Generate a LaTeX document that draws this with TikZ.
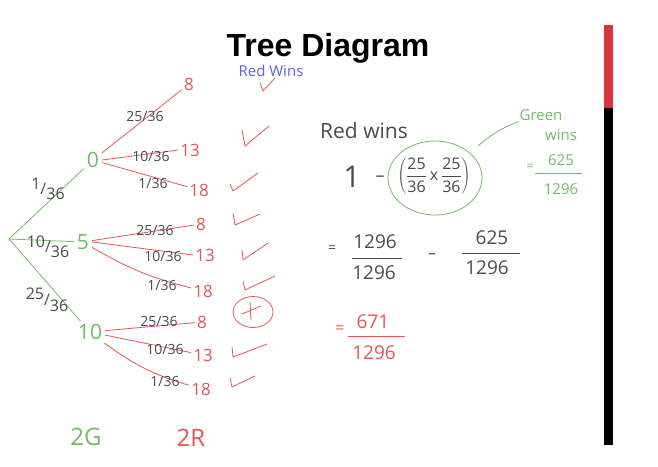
\documentclass[tikz,border=0pt]{standalone}
\usepackage{fontspec}
\setmainfont{Open Sans}
\newfontfamily\titlefont{Liberation Sans}
\definecolor{hgreen}{RGB}{112,188,98}
\definecolor{hred}{RGB}{230,85,85}
\definecolor{hblue}{RGB}{95,95,228}
\definecolor{hink}{RGB}{75,75,75}
\definecolor{barred}{RGB}{220,52,62}
\begin{document}
\begin{tikzpicture}[x=1pt,y=-1pt,
  lbl/.style={font=\fontsize{14}{16}\selectfont, text=hink, inner sep=0pt},
  rootlbl/.style={font=\fontsize{16}{18}\selectfont, text=hink, inner sep=0pt},
  gnum/.style={font=\fontsize{21}{23}\selectfont, text=hgreen, inner sep=3pt},
  rnum/.style={font=\fontsize{17}{19}\selectfont, text=hred, inner sep=2pt},
  ink/.style={text=hink, inner sep=1pt},
  gline/.style={draw=hgreen, line width=0.8pt},
  rline/.style={draw=hred, line width=0.8pt},
  chk/.style={draw=hred, line width=0.8pt, line join=round},
  bar/.style={line width=0.7pt}]
\useasboundingbox (0,0) rectangle (658,466);
% title
\node[font=\titlefont\bfseries\fontsize{32}{34}\selectfont, inner sep=0pt] (title) at (328,48) {Tree Diagram};
\node[font=\fontsize{15}{17}\selectfont, text=hblue, inner sep=0pt] (redwinsA) at (271,71) {Red Wins};
% right bar
\fill[barred] (604,25) rectangle (613,108);
\fill[black] (604,108) rectangle (613,445);
% tree
\coordinate (root) at (9,239);
\node[gnum] (g0) at (93,160) {0};
\node[gnum] (g5) at (83,242) {5};
\node[gnum] (g10) at (90,332) {10};
\draw[gline] (root) -- (g0);
\draw[gline] (root) -- (g5);
\draw[gline] (root) -- (g10);
\node[rootlbl] (l1) at (48,189) {\raisebox{5pt}{1}/\raisebox{-5pt}{36}};
\node[rootlbl] (l2) at (48,247) {\raisebox{5pt}{10}/\raisebox{-5pt}{36}};
\node[rootlbl] (l3) at (47,300) {\raisebox{6pt}{25}/\raisebox{-6pt}{36}};
% from 0
\node[rnum] (a8) at (189,84) {8};
\node[rnum] (a13) at (190,150) {13};
\node[rnum] (a18) at (199,190) {18};
\draw[rline] (g0) -- (a8);
\draw[rline] (g0.east) -- (a13.west);
\draw[rline] (g0) -- (a18);
\node[lbl] (la8) at (145,116) {25/36};
\node[lbl] (la13) at (151,156) {10/36};
\node[lbl] (la18) at (153,183) {1/36};
% from 5
\node[rnum] (b8) at (201,224) {8};
\node[rnum] (b13) at (205,255) {13};
\node[rnum] (b18) at (203,291) {18};
\draw[rline] (g5) -- (b8);
\draw[rline] (g5.east) -- (b13.west);
\draw[rline] (g5) to[bend right=8] (b18);
\node[lbl] (lb8) at (155,230) {25/36};
\node[lbl] (lb13) at (163,256) {10/36};
\node[lbl] (lb18) at (162,285) {1/36};
% from 10
\node[rnum] (c8) at (202,322) {8};
\node[rnum] (c13) at (203,355) {13};
\node[rnum] (c18) at (201,389) {18};
\draw[rline] (g10) -- (c8);
\draw[rline] (g10) -- (c13);
\draw[rline] (g10) to[bend right=10] (c18);
\node[lbl] (lc8) at (159,321) {25/36};
\node[lbl] (lc13) at (165,349) {10/36};
\node[lbl] (lc18) at (165,381) {1/36};
% checks
\draw[chk] (260,83) -- (263,91) -- (275,78);
\draw[chk] (242,130) -- (245,146) -- (269,126);
\draw[chk] (230,184) -- (233,191) -- (258,173);
\draw[chk] (233,213) -- (235,225) -- (260,214);
\draw[chk] (242,250) -- (243,260) -- (268,243);
\draw[chk] (243,281) -- (245,290) -- (275,276);
\draw[chk] (232,347) -- (233,357) -- (267,344);
\draw[chk] (230,378) -- (232,387) -- (255,376);
\draw[chk] (253,312) ellipse [x radius=20, y radius=15.5];
\draw[chk] (242,314) -- (261,306);
\draw[chk] (250,302) -- (251,320);
% bottom labels
\node[font=\fontsize{24}{26}\selectfont, text=hgreen, inner sep=0pt] (twoG) at (86,437) {2G};
\node[font=\fontsize{24}{26}\selectfont, text=hred, inner sep=0pt] (twoR) at (191,438) {2R};
% right side
\node[ink, font=\fontsize{21}{23}\selectfont] (redwins) at (364,131) {Red wins};
\node[ink, font=\fontsize{30}{32}\selectfont] (one) at (352,177) {1};
\node[ink, font=\fontsize{18}{20}\selectfont] (minus1) at (380,179) {–};
\node[ink, font=\fontsize{16}{18}\selectfont] (prod) at (434,176) {$\displaystyle\left(\frac{\mbox{25}}{\mbox{36}}\,\mbox{x}\,\frac{\mbox{25}}{\mbox{36}}\right)$};
\draw[gline] (435,178) ellipse [x radius=47, y radius=37];
\coordinate (ell) at (478,146);
\node[font=\fontsize{15}{17}\selectfont, text=hgreen, inner sep=1pt] (green) at (541,115) {Green};
\node[font=\fontsize{15}{17}\selectfont, text=hgreen, inner sep=1pt] (gwins) at (561,135) {wins};
\draw[gline] (ell) to[bend left=10] (green.south west);
\node[font=\fontsize{13}{15}\selectfont, text=hgreen, inner sep=0pt] (geq) at (530,167) {=};
\node[font=\fontsize{15}{17}\selectfont, text=hgreen, inner sep=0pt] (g625) at (561,160) {625};
\node[font=\fontsize{15}{17}\selectfont, text=hgreen, inner sep=0pt] (g1296) at (561,189) {1296};
\draw[gline] (535,173) -- (582,173);
% second line
\node[ink, font=\fontsize{14}{16}\selectfont] (eq2) at (332,249) {=};
\node[ink, font=\fontsize{19}{21}\selectfont] (n1296) at (375,242) {1296};
\node[ink, font=\fontsize{19}{21}\selectfont] (d1296) at (374,273) {1296};
\draw[bar, draw=hink] (352,258) -- (402,258);
\node[ink, font=\fontsize{16}{18}\selectfont] (minus2) at (432,256) {–};
\node[ink, font=\fontsize{19}{21}\selectfont] (n625) at (492,238) {625};
\node[ink, font=\fontsize{19}{21}\selectfont] (d1296b) at (487,268) {1296};
\draw[bar, draw=hink] (462,253) -- (520,253);
% answer
\node[font=\fontsize{16}{18}\selectfont, text=hred, inner sep=0pt] (eq3) at (340,330) {=};
\node[font=\fontsize{19}{21}\selectfont, text=hred, inner sep=0pt] (n671) at (373,322) {671};
\node[font=\fontsize{19}{21}\selectfont, text=hred, inner sep=0pt] (d1296c) at (374,353) {1296};
\draw[bar, draw=hred] (348,336) -- (405,336);
\end{tikzpicture}
\end{document}
